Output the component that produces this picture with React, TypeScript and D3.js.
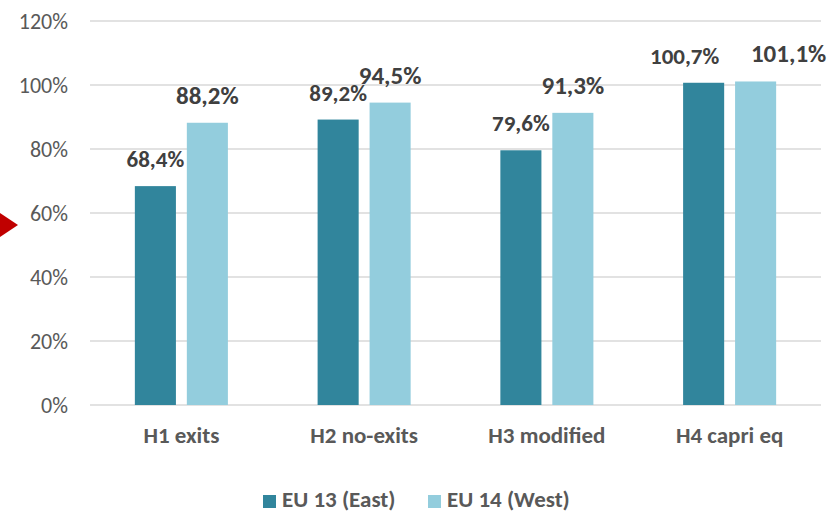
import * as d3 from "d3";

const categories = ["H1 exits", "H2 no-exits", "H3 modified", "H4 capri eq"];
const seriesNames = ["EU 13 (East)", "EU 14 (West)"];
const east = [68.4, 89.2, 79.6, 100.7];
const west = [88.2, 94.5, 91.3, 101.1];
const yTicks = [0, 20, 40, 60, 80, 100, 120];

const COLORS = ["#31859C", "#93CDDD"];
const FONT = "Calibri, Carlito, Lato, sans-serif";

// Excel moved the H4 labels sideways so they don't collide
const labelShift: Record<string, number[]> = { "H4 capri eq": [-19, 33] };

const fmt = (v: number) => v.toFixed(1).replace(".", ",") + "%";

export default function App() {
  const W = 832, H = 514;
  const M = { left: 90, right: 11, top: 21, bottom: 109 };
  const y = d3.scaleLinear().domain([0, 120]).range([H - M.bottom, M.top]);
  const x0 = d3.scaleBand<string>().domain(categories).range([M.left, W - M.right]);
  const x1 = d3.scaleBand<number>().domain([0, 1]).range([0, x0.bandwidth()]).paddingInner(0.21).paddingOuter(0.863);
  const series = [east, west];

  return (
    <svg width={W} height={H} viewBox={`0 0 ${W} ${H}`} style={{ position: "absolute", left: 0, top: 0, background: "#fff" }}>
      {/* grid + y ticks */}
      {yTicks.map((t) => (
        <g key={t}>
          <line x1={M.left} x2={W - M.right} y1={y(t)} y2={y(t)} stroke="#D9D9D9" strokeWidth={1.5} />
          <text x={68} y={y(t) + 7.5} textAnchor="end" fill="#595959" fontSize={22} fontFamily={FONT}>{t}%</text>
        </g>
      ))}

      {/* bars */}
      {categories.map((c, i) => (
        <g key={c} transform={`translate(${x0(c)},0)`}>
          {series.map((s, j) => (
            <rect key={j} x={x1(j)} y={y(s[i])} width={x1.bandwidth()} height={y(0) - y(s[i])} fill={COLORS[j]} />
          ))}
        </g>
      ))}

      {/* data labels */}
      {categories.map((c, i) => (
        <g key={c + "-lbl"} transform={`translate(${x0(c)},0)`}>
          {series.map((s, j) => (
            <text key={j}
              x={(x1(j) ?? 0) + x1.bandwidth() / 2 + (labelShift[c]?.[j] ?? 0)}
              y={y(s[i]) - 19}
              textAnchor="middle" fill="#404040" fontWeight="bold"
              fontSize={j === 0 ? 23 : 25} fontFamily={FONT}>
              {fmt(s[i])}
            </text>
          ))}
        </g>
      ))}

      {/* category labels */}
      {categories.map((c) => (
        <text key={c + "-cat"} x={(x0(c) ?? 0) + x0.bandwidth() / 2} y={443} textAnchor="middle"
          fill="#595959" fontWeight="bold" fontSize={23} fontFamily={FONT}>{c}</text>
      ))}

      {/* legend */}
      {seriesNames.map((n, j) => {
        const lx = j === 0 ? 263 : 428;
        return (
          <g key={n}>
            <rect x={lx} y={495} width={13} height={13} fill={COLORS[j]} />
            <text x={lx + 19} y={507} fill="#595959" fontWeight="bold" fontSize={23} fontFamily={FONT}>{n}</text>
          </g>
        );
      })}

      {/* red pointer at the left edge */}
      <path d="M0,213 L18,225 L0,237 Z" fill="#C00000" />
    </svg>
  );
}
